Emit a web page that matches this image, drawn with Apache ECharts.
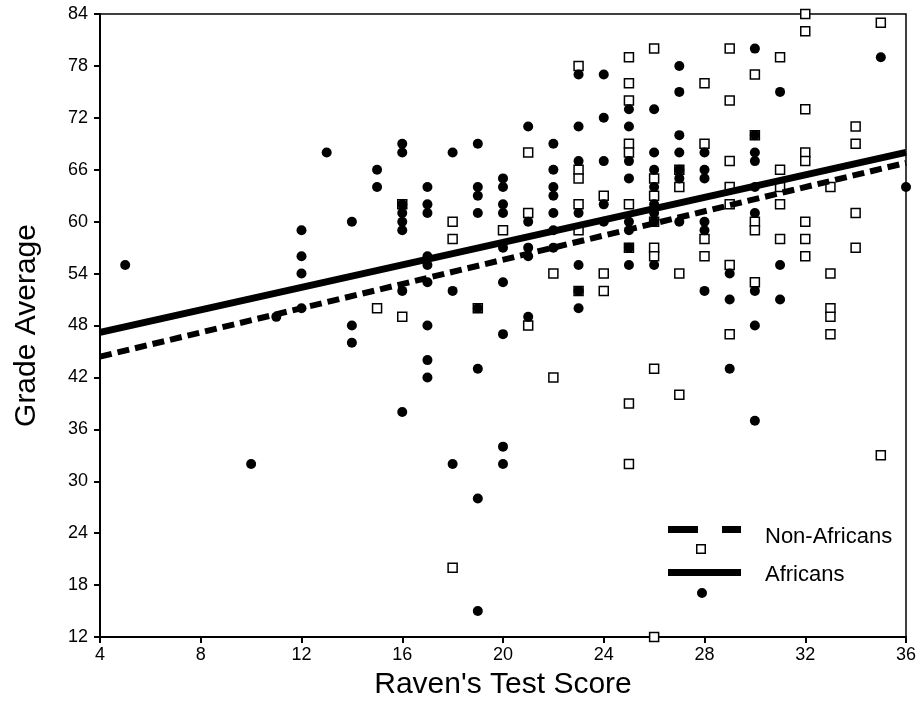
<!DOCTYPE html>
<html>
<head>
<meta charset="utf-8">
<title>Grade Average vs Raven's Test Score</title>
<script src="https://cdn.jsdelivr.net/npm/echarts@6/dist/echarts.min.js"></script>
<style>
  html, body { margin: 0; padding: 0; background: #fff; }
  #chart { width: 921px; height: 724px; }
</style>
</head>
<body>
<div id="chart"></div>
<script>
// tick labels
const xTicks = [4, 8, 12, 16, 20, 24, 28, 32, 36];
const yTicks = [12, 18, 24, 30, 36, 42, 48, 54, 60, 66, 72, 78, 84];

// Africans: [Raven's score, grade average]
const africans = [
  [5, 55], [10, 32], [11, 49],
  [12, 59], [12, 56], [12, 54], [12, 50],
  [13, 68],
  [14, 60], [14, 48], [14, 46],
  [15, 66], [15, 64],
  [16, 69], [16, 68], [16, 62], [16, 61], [16, 60], [16, 59], [16, 52], [16, 38],
  [17, 64], [17, 62], [17, 61], [17, 56], [17, 55], [17, 53], [17, 48], [17, 44], [17, 42],
  [18, 68], [18, 52], [18, 32],
  [19, 69], [19, 64], [19, 63], [19, 61], [19, 50], [19, 43], [19, 28], [19, 15],
  [20, 65], [20, 64], [20, 62], [20, 61], [20, 57], [20, 53], [20, 47], [20, 34], [20, 32],
  [21, 71], [21, 60], [21, 57], [21, 56], [21, 49],
  [22, 69], [22, 66], [22, 64], [22, 63], [22, 61], [22, 59], [22, 57],
  [23, 77], [23, 71], [23, 67], [23, 61], [23, 55], [23, 52], [23, 50],
  [24, 77], [24, 72], [24, 67], [24, 62], [24, 60],
  [25, 73], [25, 71], [25, 67], [25, 65], [25, 60], [25, 59], [25, 57], [25, 55],
  [26, 73], [26, 68], [26, 66], [26, 64], [26, 62], [26, 61], [26, 60], [26, 55],
  [27, 78], [27, 75], [27, 70], [27, 68], [27, 66], [27, 65], [27, 60],
  [28, 68], [28, 66], [28, 65], [28, 60], [28, 59], [28, 52],
  [29, 54], [29, 51], [29, 43],
  [30, 80], [30, 70], [30, 68], [30, 67], [30, 64], [30, 61], [30, 52], [30, 48], [30, 37],
  [31, 75], [31, 55], [31, 51],
  [35, 79], [36, 64]
];

// Non-Africans
const nonAfricans = [
  [15, 50],
  [16, 62], [16, 49],
  [18, 60], [18, 58], [18, 20],
  [19, 50],
  [20, 59],
  [21, 68], [21, 61], [21, 48],
  [22, 54], [22, 42],
  [23, 78], [23, 66], [23, 65], [23, 62], [23, 59], [23, 52],
  [24, 63], [24, 54], [24, 52],
  [25, 79], [25, 76], [25, 74], [25, 69], [25, 68], [25, 62], [25, 57], [25, 39], [25, 32],
  [26, 80], [26, 65], [26, 63], [26, 60], [26, 57], [26, 56], [26, 43], [26, 12],
  [27, 66], [27, 64], [27, 54], [27, 40],
  [28, 76], [28, 69], [28, 58], [28, 56],
  [29, 80], [29, 74], [29, 67], [29, 64], [29, 62], [29, 55], [29, 47],
  [30, 77], [30, 70], [30, 60], [30, 59], [30, 53],
  [31, 79], [31, 66], [31, 64], [31, 62], [31, 58],
  [32, 84], [32, 82], [32, 73], [32, 68], [32, 67], [32, 60], [32, 58], [32, 56],
  [33, 64], [33, 54], [33, 50], [33, 49], [33, 47],
  [34, 71], [34, 69], [34, 61], [34, 57],
  [35, 83], [35, 33]
];

// fitted lines, read at both ends of the x range
const africansFit = [[4, 47.2], [36, 68.0]];
const nonAfricansFit = [[4, 44.4], [36, 66.8]];

const font = 'Liberation Sans, Arial, sans-serif';

// legend icons (73 x 46 box): line on top, marker underneath.
// the lone M points pin the box corners so the text lands level with the line
const iconNonAfricans = 'path://M0 0 M73 46 M0 12 H30 V19 H0 Z M54 12 H73 V19 H54 Z ' +
  'M28 30 H38 V40 H28 Z M29.5 31.5 V38.5 H36.5 V31.5 Z';
const iconAfricans = 'path://M0 0 M73 46 M0 17 H73 V24 H0 Z M29 41 A5 5 0 1 0 39 41 A5 5 0 1 0 29 41 Z';

const chart = echarts.init(document.getElementById('chart'));

const option = {
  animation: false,
  backgroundColor: '#fff',
  textStyle: { fontFamily: font, color: '#000' },
  grid: {
    left: 100, right: 15, top: 14, bottom: 87,
    show: true,
    borderColor: '#000',
    borderWidth: 1.5
  },
  legend: {
    orient: 'vertical',
    left: 663,
    top: 509,
    itemWidth: 73,
    itemHeight: 46,
    itemGap: -8,
    selectedMode: false,
    itemStyle: { color: '#000', borderWidth: 0, opacity: 1 },
    textStyle: { fontFamily: font, fontSize: 22, color: '#000', padding: [0, 0, 0, 19] },
    data: [
      { name: 'Non-Africans', icon: iconNonAfricans },
      { name: 'Africans', icon: iconAfricans }
    ]
  },
  xAxis: {
    type: 'value',
    min: xTicks[0],
    max: xTicks[xTicks.length - 1],
    interval: xTicks[1] - xTicks[0],
    name: "Raven's Test Score",
    nameLocation: 'middle',
    nameGap: 33,
    nameTextStyle: { fontFamily: font, fontSize: 30, color: '#000' },
    axisLine: { lineStyle: { color: '#000', width: 2 } },
    axisTick: { length: 6, lineStyle: { color: '#000', width: 2 } },
    axisLabel: { fontFamily: font, fontSize: 18, color: '#000', margin: 9 },
    splitLine: { show: false }
  },
  yAxis: {
    type: 'value',
    min: yTicks[0],
    max: yTicks[yTicks.length - 1],
    interval: yTicks[1] - yTicks[0],
    name: 'Grade Average',
    nameLocation: 'middle',
    nameGap: 58,
    nameTextStyle: { fontFamily: font, fontSize: 30, color: '#000' },
    axisLine: { lineStyle: { color: '#000', width: 2 } },
    axisTick: { length: 6, lineStyle: { color: '#000', width: 2 } },
    axisLabel: { fontFamily: font, fontSize: 18, color: '#000', margin: 12 },
    splitLine: { show: false }
  },
  series: [
    {
      name: 'Non-Africans',
      type: 'scatter',
      data: nonAfricans,
      symbol: 'rect',
      symbolSize: 9,
      clip: false,
      itemStyle: { color: '#fff', borderColor: '#000', borderWidth: 1.5, opacity: 1 },
      emphasis: { disabled: true }
    },
    {
      name: 'Africans',
      type: 'scatter',
      data: africans,
      symbol: 'circle',
      symbolSize: 10,
      clip: false,
      itemStyle: { color: '#000', opacity: 1 },
      emphasis: { disabled: true }
    },
    {
      name: 'Non-Africans',
      type: 'line',
      data: nonAfricansFit,
      symbol: 'none',
      lineStyle: { color: '#000', width: 6, type: [12, 6], cap: 'butt' },
      emphasis: { disabled: true }
    },
    {
      name: 'Africans',
      type: 'line',
      data: africansFit,
      symbol: 'none',
      lineStyle: { color: '#000', width: 7 },
      emphasis: { disabled: true }
    }
  ]
};

chart.setOption(option);
</script>
</body>
</html>
